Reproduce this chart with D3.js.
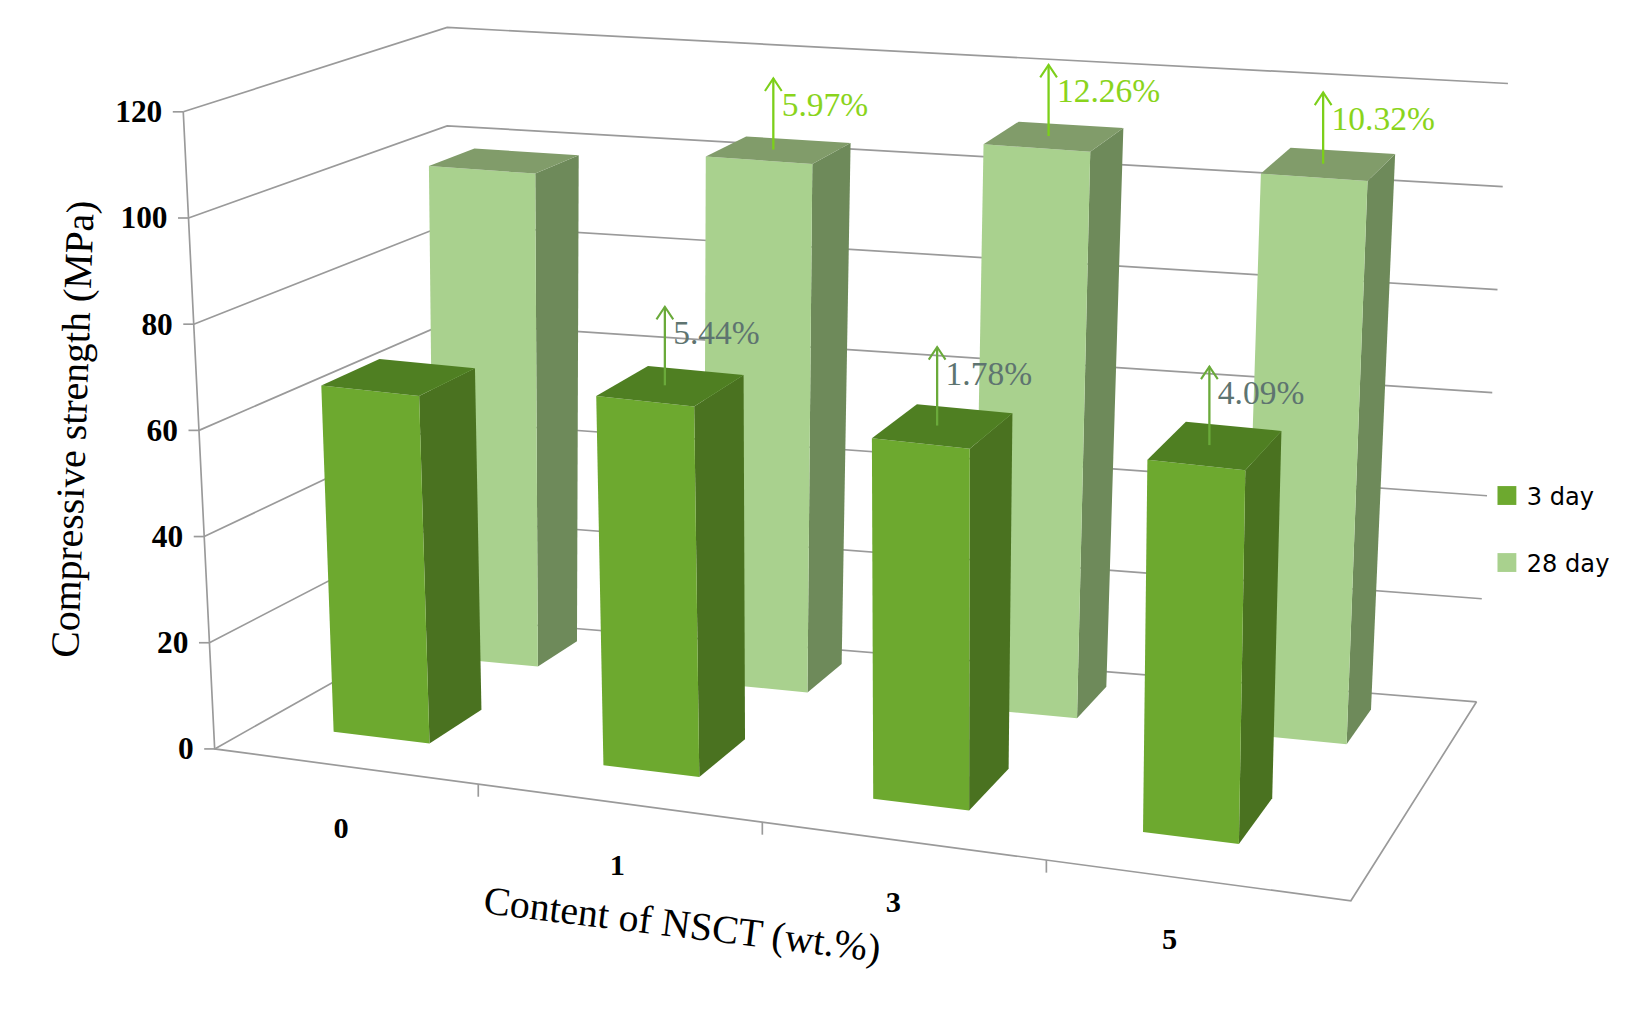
<!DOCTYPE html>
<html><head><meta charset="utf-8">
<script src="https://cdn.jsdelivr.net/npm/d3@7"></script>
<style>body{margin:0;background:#fff}</style></head>
<body><svg id="c" width="1642" height="1013" viewBox="0 0 1568 967"></svg>
<script>
const categories = ["0","1","3","5"];
const seriesNames = ["3 day","28 day"];
const day3 = [66, 69.6, 67.2, 68.7];
const day28 = [97.5, 103.3, 109.5, 107.6];
const labels3 = [null, "5.44%", "1.78%", "4.09%"];
const labels28 = [null, "5.97%", "12.26%", "10.32%"];
const yTicks = [0,20,40,60,80,100,120];

const svg = d3.select("#c");
const FL=[205,715], FR=[1290,860], BL=[427,590], BR=[1410,670];
const S={fl:5.07,fr:5.3,bl:4.7,br:4.92}, DX={fl:-0.25,fr:0.1,bl:0,br:0.25};
const lerp=(a,b,t)=>a+(b-a)*t;
const vScale=d3.scaleLinear().domain([0,120]).range([0,120]);
function P(u,w,h){
  h=vScale(h);
  const fx=lerp(FL[0],FR[0],u), fy=lerp(FL[1],FR[1],u);
  const bx=lerp(BL[0],BR[0],u), by=lerp(BL[1],BR[1],u);
  const x=lerp(fx,bx,w), y=lerp(fy,by,w);
  const s=lerp(lerp(S.fl,S.fr,u),lerp(S.bl,S.br,u),w);
  const d=lerp(lerp(DX.fl,DX.fr,u),lerp(DX.bl,DX.br,u),w);
  return [x+d*h, y-s*h];
}
const line=d3.line();
const grid="#9a9a9a";
yTicks.forEach(v=>{
  svg.append("path").attr("d",line([P(0,0,v),P(0,1,v),P(1,1,v)])).attr("fill","none").attr("stroke",grid).attr("stroke-width",1.6);
  const p=P(0,0,v);
  svg.append("path").attr("d",line([[p[0]-10,p[1]],p])).attr("stroke",grid).attr("stroke-width",1.6);
  svg.append("text").attr("x",p[0]-20).attr("y",p[1]+10).attr("text-anchor","end")
    .attr("font-family","Liberation Serif").attr("font-weight","bold").attr("font-size",30).text(v);
});
svg.append("path").attr("d",line([P(0,0,120),P(0,0,0),P(1,0,0),P(1,1,0)])).attr("fill","none").attr("stroke",grid).attr("stroke-width",1.6);
[1,2,3].forEach(i=>{const u=i/4-0.018;const p=P(u,0,0);
  svg.append("path").attr("d",line([p,[p[0],p[1]+12]])).attr("stroke",grid).attr("stroke-width",1.6);});
categories.forEach((c,i)=>{
  const p=P(0.104+0.243*i,0,0);
  svg.append("text").attr("x",p[0]+8).attr("y",p[1]+70).attr("text-anchor","middle")
   .attr("font-family","Liberation Serif").attr("font-weight","bold").attr("font-size",29).text(c);
});
const series=[
  {vals:day28,c0:0.094,step:0.255,hw:0.049,w0:0.74,w1:0.92,front:"#a9d18e",side:"#6e8a5a",top:"#819c6a"},
  {vals:day3,c0:0.108,step:0.242,hw:0.043,w0:0.2,w1:0.44,front:"#6da92f",side:"#4a7220",top:"#4f7f22"}
];
series.forEach(s=>{
  s.vals.forEach((v,i)=>{
    const c=s.c0+s.step*i,u0=c-s.hw,u1=c+s.hw;
    const g=svg.append("g");
    g.append("path").attr("d",line([P(u1,s.w0,0),P(u1,s.w1,0),P(u1,s.w1,v),P(u1,s.w0,v)])+"Z").attr("fill",s.side);
    g.append("path").attr("d",line([P(u0,s.w0,0),P(u1,s.w0,0),P(u1,s.w0,v),P(u0,s.w0,v)])+"Z").attr("fill",s.front);
    g.append("path").attr("d",line([P(u0,s.w0,v),P(u1,s.w0,v),P(u1,s.w1,v),P(u0,s.w1,v)])+"Z").attr("fill",s.top);
  });
});
function ann(s,labs,col,tcol,len){
  labs.forEach((t,i)=>{ if(!t) return;
    const c=s.c0+s.step*i;
    const p=P(c-0.005,(s.w0+s.w1)/2,s.vals[i]);
    const top=p[1]-len;
    svg.append("path").attr("d",line([[p[0],p[1]],[p[0],top]])).attr("stroke",col).attr("stroke-width",2.2).attr("fill","none");
    svg.append("path").attr("d",line([[p[0]-8,top+12],[p[0],top],[p[0]+8,top+12]])).attr("stroke",col).attr("stroke-width",2).attr("fill","none");
    svg.append("text").attr("x",p[0]+8).attr("y",top+36).attr("font-family","Liberation Serif").attr("font-size",32).attr("fill",tcol).text(t);
  });
}
ann(series[0],labels28,"#7ccf1a","#8ad41c",68);
ann(series[1],labels3,"#6aaa3a","#5e7470",75);
svg.append("text").attr("transform","translate(82,410) rotate(-88)").attr("text-anchor","middle")
  .attr("font-family","Liberation Serif").attr("font-size",38).text("Compressive strength (MPa)");
svg.append("text").attr("transform","translate(650,895) rotate(7)").attr("text-anchor","middle")
  .attr("font-family","Liberation Serif").attr("font-size",38).text("Content of NSCT (wt.%)");
const lc=["#6da92f","#a9d18e"];
seriesNames.forEach((n,i)=>{
  svg.append("rect").attr("x",1430).attr("y",464+i*64).attr("width",18).attr("height",18).attr("fill",lc[i]);
  svg.append("text").attr("x",1458).attr("y",482+i*64).attr("font-family","DejaVu Sans").attr("font-size",23).text(n);
});
</script></body></html>
